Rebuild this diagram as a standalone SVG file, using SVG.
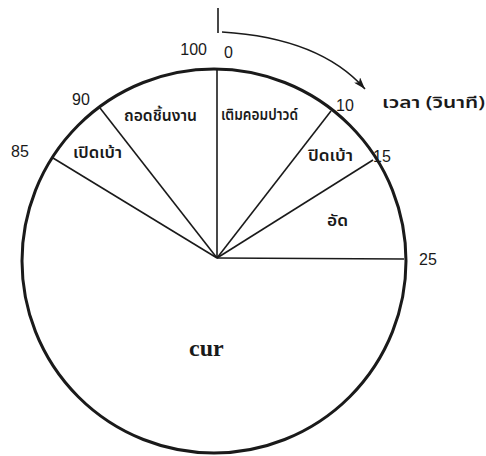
<svg xmlns="http://www.w3.org/2000/svg" width="486" height="456" viewBox="0 0 486 456">
<style>
.num{font-family:"Liberation Sans",Arial,sans-serif;font-size:16px;fill:#1a1a1a}
.th{font-family:"Noto Sans Thai","Loma","Garuda","Noto Sans","DejaVu Sans",sans-serif;font-size:16px;font-weight:600;fill:#1a1a1a}
.spoke{stroke:#1a1a1a;stroke-width:1.6;fill:none}
</style>
<defs>
<marker id="ah" viewBox="0 0 12 8" refX="12" refY="4" markerWidth="12" markerHeight="8" markerUnits="userSpaceOnUse" orient="auto">
<path d="M0,0 L12,4 L0,8 L3,4 Z" fill="#1a1a1a"/>
</marker>
</defs>
<rect width="486" height="456" fill="#fff"/>
<g id="circle">
<circle cx="214" cy="261" r="192" fill="none" stroke="#1a1a1a" stroke-width="3"/>
</g>
<g id="connectors">
<line class="spoke" x1="218" y1="8" x2="218" y2="33"/>
<line class="spoke" x1="217" y1="69" x2="217" y2="258"/>
<line class="spoke" x1="331" y1="111" x2="217" y2="258"/>
<line class="spoke" x1="373" y1="160" x2="217" y2="258"/>
<line class="spoke" x1="404" y1="259" x2="217" y2="258"/>
<line class="spoke" x1="53" y1="158" x2="217" y2="258"/>
<line class="spoke" x1="100" y1="108" x2="217" y2="258"/>
<path class="spoke" d="M222,32 Q320,38 365,89" marker-end="url(#ah)"/>
</g>
<g id="labels">
<text class="num" x="207" y="55" text-anchor="end">100</text>
<text class="num" x="224" y="58">0</text>
<text class="num" x="72" y="105">90</text>
<text class="num" x="11" y="157">85</text>
<text class="num" x="336" y="111">10</text>
<text class="num" x="373" y="162">15</text>
<text class="num" x="419" y="265">25</text>
</g>
<g id="time-label"><text class="th" x="382" y="108" font-size="18px" textLength="103" lengthAdjust="spacingAndGlyphs">เวลา (วินาที)</text></g>
<g id="seg-remove"><text class="th" x="124" y="121" textLength="73" lengthAdjust="spacingAndGlyphs">ถอดชิ้นงาน</text></g>
<g id="seg-fill"><text class="th" x="221" y="120" textLength="77" lengthAdjust="spacingAndGlyphs">เติมคอมปาวด์</text></g>
<g id="seg-open"><text class="th" x="73" y="158" textLength="49" lengthAdjust="spacingAndGlyphs">เปิดเบ้า</text></g>
<g id="seg-close"><text class="th" x="308" y="161" textLength="45" lengthAdjust="spacingAndGlyphs">ปิดเบ้า</text></g>
<g id="seg-press"><text class="th" x="327" y="226" textLength="21" lengthAdjust="spacingAndGlyphs">อัด</text></g>
<g id="seg-cure"><text x="189" y="356" font-family="'Liberation Serif','Times New Roman',serif" font-size="24px" font-weight="bold" fill="#1a1a1a">cur</text></g>
</svg>
